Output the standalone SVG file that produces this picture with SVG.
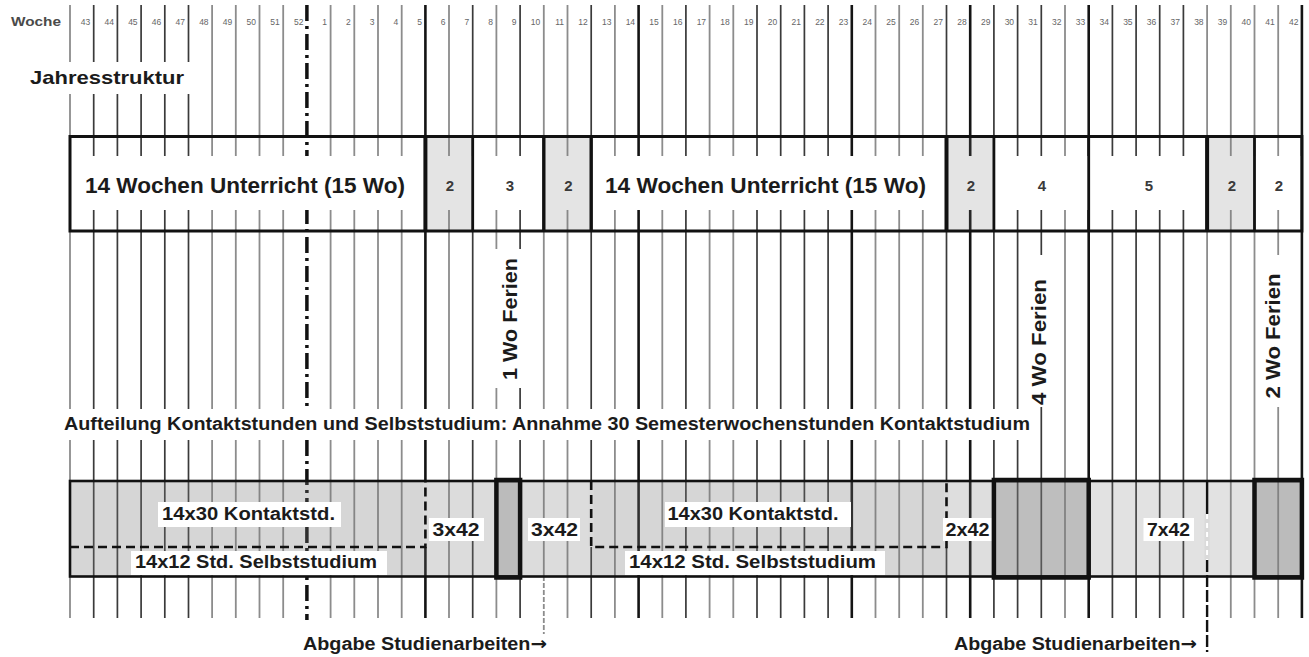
<svg xmlns="http://www.w3.org/2000/svg" width="1309" height="657" viewBox="0 0 1309 657">
<style>
text{font-family:"Liberation Sans",Arial,"DejaVu Sans",sans-serif;font-weight:bold;fill:#1b1b1b}
.wk{font-size:8.5px;font-weight:normal;fill:#666;text-anchor:end}
.g{stroke:#8c8c8c;stroke-width:1.8;fill:none}
.d{stroke:#3a3a3a;stroke-width:1.7;fill:none}
.k{stroke:#141414;stroke-width:2.6;fill:none}
.dd{stroke:#111;stroke-width:3.5;stroke-dasharray:16 5 3 5;fill:none}
.bg{fill:#fff}
.bd{fill:none;stroke:#111}
.num{font-size:15px;fill:#3a3a3a;text-anchor:middle}
.big{font-size:21.5px}
.lbl{font-size:18px}
.vl{font-size:21px;text-anchor:middle}
.dash{stroke:#111;stroke-width:2.6;stroke-dasharray:9 5;fill:none}
.lt{fill:#777}
.arr{font-family:"DejaVu Sans",sans-serif;font-weight:bold}
</style>
<rect width="1309" height="657" fill="#fff"/>

<g id="connectors">
<path class="g" d="M70,5V618M212.1,5V618M235.8,5V618M259.5,5V618M283.2,5V618M330.6,5V618M354.3,5V618M378,5V618M401.7,5V618M449,5V618M496.4,5V618M543.8,5V576M567.5,5V618M614.9,5V618M662.3,5V618M709.6,5V618M733.3,5V618M875.5,5V618M899.2,5V618M922.8,5V618M1065,5V618M1207.1,5V481M1230.8,5V618M1254.5,5V618M1278.2,5V618"/>
<path class="d" d="M93.7,5V618M117.4,5V618M141.1,5V618M164.8,5V618M188.5,5V618M472.7,5V618M520.1,5V618M591.2,5V618M685.9,5V618M757,5V618M780.7,5V618M804.4,5V618M828.1,5V618M946.5,5V618M993.9,5V618M1017.6,5V618M1041.3,5V618M1112.4,5V618M1136.1,5V618M1159.7,5V618M1183.4,5V618"/>
<path class="k" d="M425.4,5V618M638.6,5V618M851.8,5V618M970.2,5V618M1088.7,5V618M1301.9,5V618"/>
<path class="dd" d="M306.9,5V620"/>
</g>

<g id="label-backgrounds">
<rect class="bg" x="20" y="62" width="191" height="32"/>
<rect class="bg" x="495" y="249" width="29" height="139"/>
<rect class="bg" x="1026" y="255" width="25" height="152"/>
<rect class="bg" x="1261" y="255" width="26" height="152"/>
<rect class="bg" x="58" y="409" width="978" height="31"/>
</g>

<g id="header">
<text x="11" y="26" font-size="13" textLength="50" lengthAdjust="spacingAndGlyphs" style="fill:#4a4a4a">Woche</text>
<g class="weeks">
<text class="wk" x="90.2" y="25">43</text><text class="wk" x="113.9" y="25">44</text><text class="wk" x="137.6" y="25">45</text><text class="wk" x="161.3" y="25">46</text><text class="wk" x="185" y="25">47</text><text class="wk" x="208.6" y="25">48</text><text class="wk" x="232.3" y="25">49</text><text class="wk" x="256" y="25">50</text><text class="wk" x="279.7" y="25">51</text><text class="wk" x="303.4" y="25">52</text>
<text class="wk" x="327.1" y="25">1</text><text class="wk" x="350.8" y="25">2</text><text class="wk" x="374.5" y="25">3</text><text class="wk" x="398.2" y="25">4</text><text class="wk" x="421.9" y="25">5</text><text class="wk" x="445.5" y="25">6</text><text class="wk" x="469.2" y="25">7</text><text class="wk" x="492.9" y="25">8</text><text class="wk" x="516.6" y="25">9</text><text class="wk" x="540.3" y="25">10</text>
<text class="wk" x="564" y="25">11</text><text class="wk" x="587.7" y="25">12</text><text class="wk" x="611.4" y="25">13</text><text class="wk" x="635.1" y="25">14</text><text class="wk" x="658.8" y="25">15</text><text class="wk" x="682.4" y="25">16</text><text class="wk" x="706.1" y="25">17</text><text class="wk" x="729.8" y="25">18</text><text class="wk" x="753.5" y="25">19</text><text class="wk" x="777.2" y="25">20</text>
<text class="wk" x="800.9" y="25">21</text><text class="wk" x="824.6" y="25">22</text><text class="wk" x="848.3" y="25">23</text><text class="wk" x="872" y="25">24</text><text class="wk" x="895.7" y="25">25</text><text class="wk" x="919.3" y="25">26</text><text class="wk" x="943" y="25">27</text><text class="wk" x="966.7" y="25">28</text><text class="wk" x="990.4" y="25">29</text><text class="wk" x="1014.1" y="25">30</text>
<text class="wk" x="1037.8" y="25">31</text><text class="wk" x="1061.5" y="25">32</text><text class="wk" x="1085.2" y="25">33</text><text class="wk" x="1108.9" y="25">34</text><text class="wk" x="1132.6" y="25">35</text><text class="wk" x="1156.2" y="25">36</text><text class="wk" x="1179.9" y="25">37</text><text class="wk" x="1203.6" y="25">38</text><text class="wk" x="1227.3" y="25">39</text><text class="wk" x="1251" y="25">40</text>
<text class="wk" x="1274.7" y="25">41</text><text class="wk" x="1298.4" y="25">42</text>
</g>
</g>

<g id="jahresstruktur">
<text x="30" y="84" font-size="19" textLength="154" lengthAdjust="spacingAndGlyphs">Jahresstruktur</text>
</g>

<g id="jahresbalken">
<rect x="71.5" y="156" width="1229" height="54" fill="#fff"/>
<g class="lt" fill-opacity="0.2">
<rect x="425.4" y="137" width="47.3" height="93"/>
<rect x="543.8" y="137" width="47.4" height="93"/>
<rect x="946.5" y="137" width="47.4" height="93"/>
<rect x="1207.1" y="137" width="47.4" height="93"/>
</g>
<rect class="bd" x="70" y="136.5" width="1231.9" height="94.5" stroke-width="3"/>
<path class="bd" stroke-width="4" d="M425.4,136.5V231M946.5,136.5V231M1207.1,136.5V231"/>
<path class="bd" stroke-width="3.4" d="M543.8,136.5V231M591.2,136.5V231"/>
<path class="bd" stroke-width="2.8" d="M472.7,136.5V231M993.9,136.5V231M1088.7,136.5V231M1254.5,136.5V231"/>
<text class="big" x="85" y="193" textLength="320" lengthAdjust="spacingAndGlyphs">14 Wochen Unterricht (15 Wo)</text>
<text class="big" x="605" y="193" textLength="321" lengthAdjust="spacingAndGlyphs">14 Wochen Unterricht (15 Wo)</text>
<text class="num" x="450" y="191">2</text>
<text class="num" x="510" y="191">3</text>
<text class="num" x="568.5" y="191">2</text>
<text class="num" x="971" y="191">2</text>
<text class="num" x="1042" y="191">4</text>
<text class="num" x="1149" y="191">5</text>
<text class="num" x="1232" y="191">2</text>
<text class="num" x="1279" y="191">2</text>
</g>

<g id="ferien-labels">
<text class="vl" transform="translate(517,319) rotate(-90)" textLength="122" lengthAdjust="spacingAndGlyphs">1 Wo Ferien</text>
<text class="vl" transform="translate(1046,342) rotate(-90)" textLength="126" lengthAdjust="spacingAndGlyphs">4 Wo Ferien</text>
<text class="vl" transform="translate(1280,336) rotate(-90)" textLength="125" lengthAdjust="spacingAndGlyphs">2 Wo Ferien</text>
</g>

<g id="aufteilung">
<text x="64" y="430" font-size="17.5" textLength="966" lengthAdjust="spacingAndGlyphs">Aufteilung Kontaktstunden und Selbststudium: Annahme 30 Semesterwochenstunden Kontaktstudium</text>
</g>

<g id="stundenbalken">
<g class="lt">
<rect x="70" y="481" width="355.4" height="95.5" fill-opacity="0.3"/>
<rect x="425.4" y="481" width="71" height="95.5" fill-opacity="0.26"/>
<rect x="496.4" y="481" width="23.7" height="95.5" fill-opacity="0.5"/>
<rect x="520.1" y="481" width="71.1" height="95.5" fill-opacity="0.26"/>
<rect x="591.2" y="481" width="355.3" height="95.5" fill-opacity="0.3"/>
<rect x="946.5" y="481" width="47.4" height="95.5" fill-opacity="0.24"/>
<rect x="993.9" y="481" width="94.8" height="95.5" fill-opacity="0.48"/>
<rect x="1088.7" y="481" width="165.8" height="95.5" fill-opacity="0.21"/>
<rect x="1254.5" y="481" width="47.4" height="95.5" fill-opacity="0.5"/>
</g>
<g fill="#dadada">
<rect x="422.9" y="482" width="5" height="65"/>
<rect x="588.7" y="482" width="5" height="65"/>
<rect x="944" y="482" width="5" height="65"/>
<rect x="1204.6" y="514" width="5" height="46"/>
</g>
<path class="dash" d="M70,547H425.4V481"/>
<path class="dash" d="M591.2,481V547H946.5V481"/>
<path d="M1207.1,481V514" stroke="#111" stroke-width="2.4"/>
<path d="M1207.1,514V560" stroke="#fff" stroke-width="2" stroke-dasharray="5 4"/>
<path d="M1207.1,560V652" stroke="#111" stroke-width="2.4" stroke-dasharray="12 3"/>
<path d="M543.8,576V634" stroke="#8c8c8c" stroke-width="1.8" stroke-dasharray="5 2"/>
<rect class="bg" x="158" y="502" width="183" height="25"/>
<rect class="bg" x="131" y="551" width="256" height="24"/>
<rect class="bg" x="429" y="518" width="55" height="23"/>
<rect class="bg" x="528" y="518" width="52" height="23"/>
<rect class="bg" x="665" y="502" width="186" height="25"/>
<rect class="bg" x="625" y="551" width="260" height="24"/>
<rect class="bg" x="943" y="518" width="49" height="23"/>
<rect class="bg" x="1143.5" y="518" width="50.5" height="23"/>
<rect class="bd" x="70" y="481" width="1231.9" height="95.5" stroke-width="2.6"/>
<g class="bd" stroke-width="4.5">
<rect x="496.4" y="480" width="23.7" height="97.5"/>
<rect x="993.9" y="480" width="94.8" height="97.5"/>
<rect x="1254.5" y="480" width="47.4" height="97.5"/>
</g>
<g class="lbl">
<text x="162" y="519.5" textLength="173" lengthAdjust="spacingAndGlyphs">14x30 Kontaktstd.</text>
<text x="135" y="567.5" textLength="242" lengthAdjust="spacingAndGlyphs">14x12 Std. Selbststudium</text>
<text x="432.5" y="535.5" textLength="47" lengthAdjust="spacingAndGlyphs">3x42</text>
<text x="531" y="535.5" textLength="47" lengthAdjust="spacingAndGlyphs">3x42</text>
<text x="667.5" y="519.5" textLength="171" lengthAdjust="spacingAndGlyphs">14x30 Kontaktstd.</text>
<text x="629" y="567.5" textLength="247" lengthAdjust="spacingAndGlyphs">14x12 Std. Selbststudium</text>
<text x="945.5" y="535.5" textLength="44" lengthAdjust="spacingAndGlyphs">2x42</text>
<text x="1147" y="535.5" textLength="43" lengthAdjust="spacingAndGlyphs">7x42</text>
</g>
</g>

<g id="abgabe">
<text x="303" y="650" font-size="18" textLength="244" lengthAdjust="spacingAndGlyphs">Abgabe Studienarbeiten<tspan class="arr">→</tspan></text>
<text x="954" y="650" font-size="18" textLength="243" lengthAdjust="spacingAndGlyphs">Abgabe Studienarbeiten<tspan class="arr">→</tspan></text>
</g>
</svg>
